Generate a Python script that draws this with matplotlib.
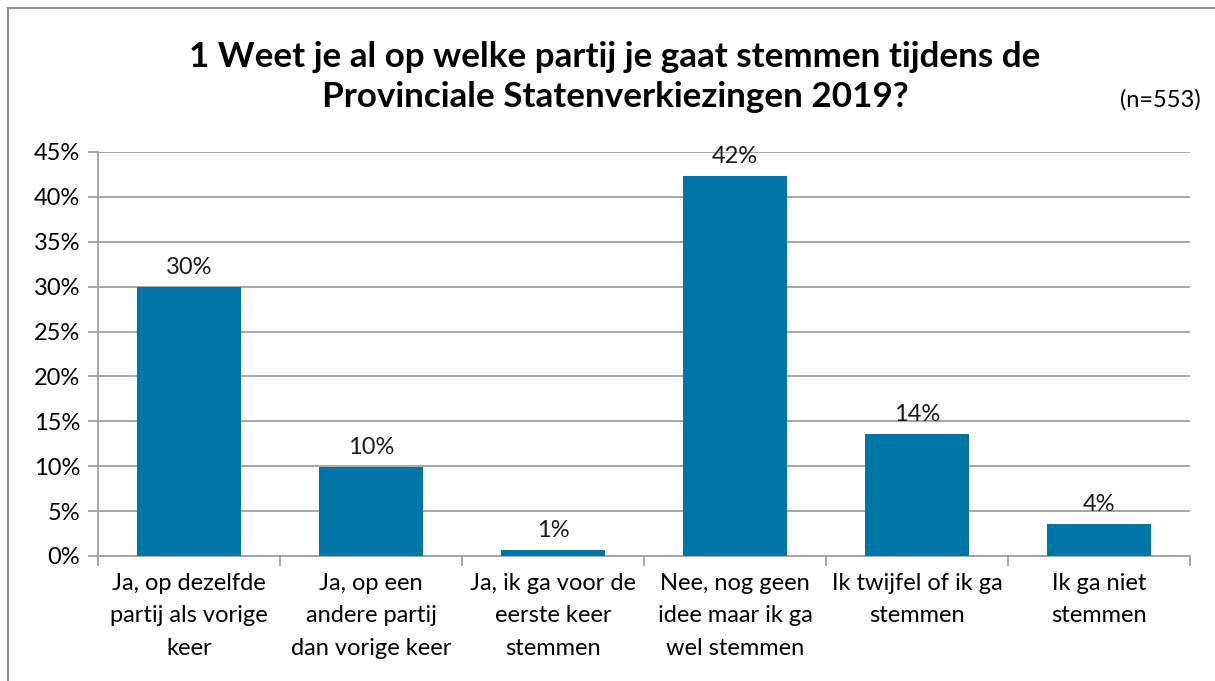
import matplotlib
matplotlib.use("Agg")
import matplotlib.pyplot as plt
from matplotlib.patches import Rectangle
from matplotlib.ticker import FixedLocator, PercentFormatter

categories = [
    "Ja, op dezelfde\npartij als vorige\nkeer",
    "Ja, op een\nandere partij\ndan vorige keer",
    "Ja, ik ga voor de\neerste keer\nstemmen",
    "Nee, nog geen\nidee maar ik ga\nwel stemmen",
    "Ik twijfel of ik ga\nstemmen",
    "Ik ga niet\nstemmen",
]
values = [30.0, 9.9, 0.7, 42.3, 13.6, 3.6]
labels = ["30%", "10%", "1%", "42%", "14%", "4%"]
yticks = [0, 5, 10, 15, 20, 25, 30, 35, 40, 45]

plt.rcParams["font.family"] = ["Lato", "DejaVu Sans"]

W, H = 1215, 681
fig = plt.figure(figsize=(W / 100, H / 100), dpi=100)
ax = fig.add_axes([98 / W, 1 - 556 / H, (1190 - 98) / W, (556 - 152) / H])

grid_col = "#a0a0a0"
fs = 17
x = range(len(categories))
ax.bar(x, values, width=0.57, color="#0076a8", zorder=3)
for xi, v, lab in zip(x, values, labels):
    ax.text(xi, v + 1.0, lab, ha="center", va="bottom", fontsize=fs, color="#1a1a1a")

ax.set_xlim(-0.5, len(categories) - 0.5)
ax.set_ylim(0, 45)
ax.set_yticks(yticks)
ax.yaxis.set_major_formatter(PercentFormatter(decimals=0))
ax.yaxis.grid(True, color=grid_col, linewidth=1.3, zorder=0)
ax.tick_params(axis="y", length=7, color=grid_col, width=1.3, labelsize=fs, pad=6)

ax.xaxis.set_major_locator(FixedLocator([i - 0.5 for i in range(len(categories) + 1)]))
ax.set_xticklabels([])
ax.xaxis.set_minor_locator(FixedLocator(list(x)))
ax.set_xticklabels(categories, minor=True)
ax.tick_params(axis="x", which="major", length=7, color=grid_col, width=1.3)
ax.tick_params(axis="x", which="minor", length=0, labelsize=fs, pad=12)
for lab in ax.get_xticklabels(minor=True):
    lab.set_linespacing(1.68)

for s in ["top", "right"]:
    ax.spines[s].set_visible(False)
for s in ["left", "bottom"]:
    ax.spines[s].set_color(grid_col)
    ax.spines[s].set_linewidth(1.3)

fig.text(615 / W, 1 - 77 / H,
         "1 Weet je al op welke partij je gaat stemmen tijdens de\nProvinciale Statenverkiezingen 2019?",
         ha="center", va="center", fontsize=25.2, fontweight="bold", linespacing=1.3)
fig.text(1201 / W, 1 - 100 / H, "(n=553)", ha="right", va="center", fontsize=fs)

fig.patches.append(Rectangle((8 / W, -0.1), 1.2, 1 - 8 / H + 0.1, transform=fig.transFigure,
                             fill=False, edgecolor="#8c8c8c", linewidth=1.5))

fig.savefig("out.png", dpi=100)
